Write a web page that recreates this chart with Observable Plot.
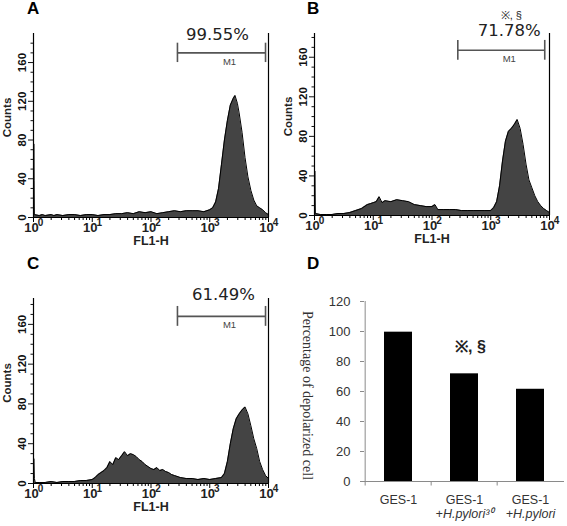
<!DOCTYPE html>
<html><head><meta charset="utf-8">
<script src="https://cdn.jsdelivr.net/npm/d3@7"></script>
<script src="https://cdn.jsdelivr.net/npm/@observablehq/plot@0.6"></script>
<style>
body{margin:0;background:#fff;}
#fig{position:relative;width:567px;height:526px;overflow:hidden;background:#fff;}
.panel{position:absolute;}
.letter{position:absolute;font:bold 17px "Liberation Sans",Arial,sans-serif;line-height:17px;color:#000;}
</style></head><body><div id="fig"></div>
<script>
// ---------- data ----------
// histograms: [log10(FL1-H), counts]
const histA = [[0,0],[0.005,76],[0.01,38],[0.015,3],[0.1,2],[0.15,3],[0.2,2],[0.3,3],[0.35,2],[0.4,3],[0.5,2],[0.6,3],[0.7,3],[0.8,2],[0.9,3],[1.0,3],[1.1,2],[1.2,3],[1.3,3],[1.4,4],[1.5,4],[1.6,5],[1.7,4],[1.8,6],[1.9,5],[2.0,6],[2.1,4],[2.2,5],[2.3,6],[2.4,7],[2.5,6],[2.6,7],[2.7,7],[2.8,7],[2.9,6],[3.0,8],[3.05,10],[3.1,16],[3.15,30],[3.2,55],[3.25,80],[3.3,100],[3.35,116],[3.4,123],[3.43,126],[3.47,118],[3.5,108],[3.55,88],[3.6,62],[3.65,42],[3.7,28],[3.75,18],[3.8,12],[3.85,10],[3.9,8],[3.95,5],[4.0,3]];
const histB = [[0,0],[0.005,45],[0.015,2],[0.1,1],[0.2,1],[0.3,1],[0.4,2],[0.5,2],[0.6,3],[0.7,5],[0.8,7],[0.9,11],[0.95,12],[1.0,13],[1.05,14],[1.1,19],[1.15,13],[1.2,15],[1.3,14],[1.4,16],[1.5,15],[1.6,14],[1.7,11],[1.8,10],[1.9,9],[2.0,9],[2.05,11],[2.1,6],[2.2,6],[2.3,6],[2.4,6],[2.5,5],[2.6,5],[2.7,5],[2.8,5],[2.9,5],[3.0,5],[3.05,8],[3.1,14],[3.15,30],[3.2,55],[3.25,75],[3.3,85],[3.35,88],[3.4,92],[3.45,97],[3.5,88],[3.55,72],[3.6,52],[3.65,36],[3.7,28],[3.75,20],[3.8,14],[3.85,10],[3.9,7],[3.95,5],[4.0,3]];
const histC = [[0,0],[0.005,25],[0.015,5],[0.03,1],[0.1,1],[0.2,1],[0.3,2],[0.4,1],[0.5,2],[0.6,2],[0.7,2],[0.8,3],[0.9,3],[1.0,4],[1.05,6],[1.1,9],[1.15,11],[1.2,13],[1.25,16],[1.3,22],[1.35,19],[1.4,26],[1.45,24],[1.5,28],[1.55,32],[1.6,28],[1.65,30],[1.7,29],[1.75,27],[1.8,24],[1.85,22],[1.9,19],[1.95,17],[2.0,15],[2.05,14],[2.1,16],[2.15,13],[2.2,14],[2.25,12],[2.3,11],[2.35,9],[2.4,8],[2.5,6],[2.6,5],[2.7,5],[2.8,4],[2.9,5],[3.0,4],[3.1,5],[3.2,6],[3.25,10],[3.3,22],[3.35,40],[3.4,55],[3.45,65],[3.5,70],[3.55,74],[3.6,77],[3.65,70],[3.7,58],[3.75,45],[3.8,35],[3.85,22],[3.9,14],[3.95,8],[4.0,5]];

const percentLabels = ["99.55%", "71.78%", "61.49%"];
const gateLow = [282, 275, 282];      // M1 gate start (FL1-H)
const gateHigh = [8900, 8300, 8900];  // M1 gate end (FL1-H)
const gateLevel = [170, 167, 168];    // counts level of gate bar

const xMajor = [1, 10, 100, 1000, 10000];
const xMajorExp = ["0", "1", "2", "3", "4"];
const xMinor = [2,3,4,5,6,7,8,9,20,30,40,50,60,70,80,90,200,300,400,500,600,700,800,900,2000,3000,4000,5000,6000,7000,8000,9000];
const yMajor = [0, 40, 80, 120, 160];
const yMinor = [10, 20, 30, 50, 60, 70, 90, 100, 110, 130, 140, 150, 170, 180];

const groups = ["GES-1", "GES-1 +H.pylori30", "GES-1 +H.pylori"];
const groupLine1 = ["GES-1", "GES-1", "GES-1"];
const groupLine2 = ["", "+H.pylori³⁰", "+H.pylori"];
const depolarized = [99.55, 71.78, 61.49];
const barTicks = [0, 20, 40, 60, 80, 100, 120];
const sigMark = "※, §";

// ---------- drawing ----------
const fig = document.getElementById("fig");
const narrow = '"Liberation Sans Narrow","Arial Narrow","Liberation Sans",Arial,sans-serif';
const sans = '"Liberation Sans", Arial, sans-serif';

function place(node, left, top) {
  node.classList.add("panel");
  node.style.left = left + "px";
  node.style.top = top + "px";
  fig.appendChild(node);
}
function letter(t, left, top) {
  const d = document.createElement("div");
  d.className = "letter"; d.textContent = t;
  d.style.left = left + "px"; d.style.top = top + "px";
  fig.appendChild(d);
}

function histPanel(i, hist, o) {
  const pts = hist.map(([l, c]) => ({x: Math.pow(10, l), y: c}));
  const mid = Math.sqrt(gateLow[i] * gateHigh[i]);
  const marks = [
    Plot.areaY(pts, {x: "x", y: "y", fill: "#444", curve: "linear"}),
    Plot.lineY(pts, {x: "x", y: "y", stroke: "#000", strokeWidth: 1}),
    Plot.ruleY([0], {stroke: "#000", strokeWidth: 1.2}),
    Plot.ruleX([1], {stroke: "#000", strokeWidth: 1.2}),
    Plot.ruleX([10000], {stroke: "#000", strokeWidth: 1.2}),
    Plot.axisX({ticks: xMinor, tickSize: 3, tickFormat: () => "", label: null, stroke: "#000"}),
    Plot.axisX({ticks: xMajor, tickSize: 5, tickFormat: () => "", label: null, stroke: "#000"}),
    Plot.text(xMajor, {x: d => d, frameAnchor: "bottom", dy: 14, dx: -2, text: () => "10",
      fontSize: 13, fontWeight: "bold", fill: "#222", fontFamily: narrow}),
    Plot.text(xMajor, {x: d => d, frameAnchor: "bottom", dy: 8, dx: 7, text: (d, i) => xMajorExp[i],
      fontSize: 10, fontWeight: "bold", fill: "#222", fontFamily: narrow}),
    Plot.text(["FL1-H"], {frameAnchor: "bottom", dy: 27, fontSize: 12.5, fontWeight: "bold", fill: "#222"}),
    Plot.axisY({ticks: yMinor, tickSize: 2.5, tickFormat: () => "", label: null}),
    Plot.axisY({ticks: yMajor, tickSize: 5, tickRotate: -90, tickPadding: 3, label: null,
      fontSize: 11.5, fontWeight: "bold"}),
    Plot.text(["Counts"], {frameAnchor: "left", rotate: -90, textAnchor: "middle", dx: -26, dy: -8,
      fontSize: 11.5, fontWeight: "bold", fill: "#222"}),
    // M1 gate
    Plot.ruleY([gateLevel[i]], {x1: gateLow[i], x2: gateHigh[i], stroke: "#555", strokeWidth: 1.6}),
    Plot.ruleX([gateLow[i], gateHigh[i]], {y1: gateLevel[i] - 10, y2: gateLevel[i] + 10, stroke: "#555", strokeWidth: 1.6}),
    Plot.text(["M1"], {x: () => mid, y: () => gateLevel[i], dy: 9, dx: 8, fontSize: 9.5, fill: "#444", fontFamily: sans}),
    Plot.text([percentLabels[i]], {x: () => mid, y: () => gateLevel[i], dy: o.pctDy, dx: o.pctDx, fontSize: 16.5,
      fill: "#222", fontFamily: "DejaVu Sans, Verdana, sans-serif"})
  ];
  if (o.sig) marks.push(Plot.text([sigMark], {x: () => mid, y: () => gateLevel[i], dy: o.pctDy - 15, dx: o.pctDx + 2, fontSize: 11, fill: "#222"}));
  return Plot.plot({
    width: o.width, height: o.height,
    marginLeft: o.mL, marginRight: o.mR, marginTop: o.mT, marginBottom: o.mB,
    style: {fontFamily: narrow, color: "#111", background: "transparent", overflow: "visible"},
    x: {type: "log", domain: [1, 10000]},
    y: {domain: [0, o.yMax]},
    marks
  });
}

place(histPanel(0, histA, {width: 283, height: 250, mL: 33, mR: 15, mT: 33, mB: 33, yMax: 190, pctDy: -18, pctDx: -4}), 0, 0);
place(histPanel(1, histB, {width: 284, height: 250, mL: 31, mR: 18, mT: 33, mB: 35, yMax: 184, pctDy: -20, pctDx: 8, sig: true}), 283, 0);
place(histPanel(2, histC, {width: 283, height: 271, mL: 33, mR: 15, mT: 43, mB: 43, yMax: 186, pctDy: -22, pctDx: 2}), 0, 255);

// Panel D bar chart
const frameW = 284 - 81 - 3;
const step = frameW / groups.length;
const bars = groups.map((g, i) => ({g, v: depolarized[i]}));
const plotD = Plot.plot({
  width: 284, height: 271, marginLeft: 81, marginRight: 3, marginTop: 46, marginBottom: 45,
  style: {fontFamily: sans, color: "#333", background: "transparent", overflow: "visible"},
  x: {domain: groups, paddingInner: 0.58, paddingOuter: 0.29, axis: null},
  y: {domain: [0, 120]},
  marks: [
    Plot.barY(bars, {x: "g", y: "v", fill: "#000"}),
    Plot.ruleY([0], {stroke: "#8a8a8a", strokeWidth: 1}),
    Plot.ruleX([groups[0]], {x: d => d, y1: 0, y2: 120, dx: -step / 2, stroke: "#8a8a8a", strokeWidth: 1}),
    Plot.ruleX(groups, {x: d => d, y1: 0, y2: -3, dx: -step / 2, stroke: "#8a8a8a"}),
    Plot.axisY({ticks: barTicks, tickSize: 4, tickPadding: 10, label: null, fontSize: 13, stroke: "#8a8a8a"}),
    Plot.text(groups, {x: d => d, frameAnchor: "bottom", dy: 22, text: (d, i) => groupLine1[i], fontSize: 12.5, fill: "#333"}),
    Plot.text(groups, {x: d => d, frameAnchor: "bottom", dy: 36, text: (d, i) => groupLine2[i], fontSize: 12.5, fontStyle: "italic", fill: "#333"}),
    Plot.text([sigMark], {x: () => groups[1], y: () => depolarized[1], dy: -27, dx: 6, fontSize: 16, fontWeight: "bold", fill: "#222"}),
    Plot.text(["Percentage of depolarized cell"], {frameAnchor: "left", rotate: 90, textAnchor: "middle", dx: -57, dy: 4, fontSize: 14,
      fontFamily: '"Liberation Serif", "DejaVu Serif", serif', fill: "#333"})
  ]
});
place(plotD, 283, 255);

letter("A", 27, 0);
letter("B", 307, 0);
letter("C", 27, 255);
letter("D", 307, 255);
</script></body></html>
